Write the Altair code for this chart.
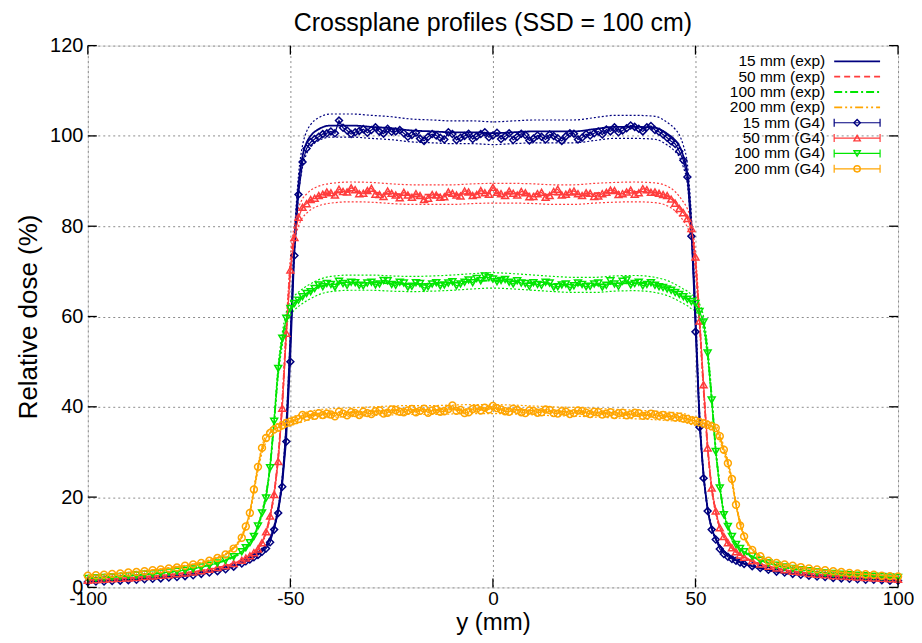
import altair as alt
import pandas as pd

TITLE = "Crossplane profiles (SSD = 100 cm)"
X_TITLE = "y (mm)"
Y_TITLE = "Relative dose (%)"
X_TICKS = [-100, -50, 0, 50, 100]
Y_TICKS = [0, 20, 40, 60, 80, 100, 120]

SERIES = ["15 mm", "50 mm", "100 mm", "200 mm"]
COLORS = ["#00007f", "#ff3c3c", "#00e600", "#ffa500"]
SHAPES = ["diamond", "triangle-up", "triangle-down", "circle"]
EXP_DASH = [[1, 0], [6, 4], [8, 3, 2, 3], [8, 3, 2, 3, 2, 3]]
UNC_PCT = 2.5  # relative uncertainty band drawn dotted around the measured profile

# ---- Geant4 (G4) simulated profiles ----
X_G4 = list(range(-100, -61, 2)) + list(range(-61, 62)) + list(range(62, 101, 2))

G4_15 = [1.2, 1.3, 1.3, 1.4, 1.5, 1.6, 1.7, 1.8, 1.9, 2.0, 2.2, 2.3, 2.5, 2.7, 3.0, 3.3, 3.6, 4.0, 4.6, 5.3,
         5.8, 6.2, 6.7, 7.2, 7.9, 8.6, 10.0, 12.8, 16.5, 22.3, 32.3, 50.0, 73.5, 87.0, 94.2, 97.2, 98.6, 99.3, 99.8, 100.4, 100.6,
         101.0, 100.6, 103.4, 101.8, 101.2, 100.4, 100.8, 101.1, 101.5, 100.7,
         101.3, 101.9, 100.9, 100.5, 101.6, 100.9, 101.0, 101.3, 100.6, 99.8,
         100.2, 100.7, 99.4, 98.9, 99.8, 100.4, 100.1, 99.6, 99.2, 100.8,
         100.4, 99.1, 99.6, 100.0, 100.5, 99.3, 99.9, 100.4, 100.8, 99.7,
         100.1, 100.7, 99.3, 99.9, 100.6, 99.1, 99.8, 100.5, 100.2, 99.0,
         99.4, 100.1, 99.8, 99.2, 100.3, 100.0, 99.5, 98.9, 99.9, 100.6,
         100.5, 99.2, 99.6, 100.4, 100.1, 100.6, 101.0, 100.3, 101.4, 101.0,
         101.9, 100.8, 101.2, 101.7, 102.3, 102.0, 101.6, 101.0, 101.9, 102.2,
         101.3,
         100.9, 100.3, 99.6, 98.8, 98.2, 96.6, 94.6, 90.9, 77.8, 56.6, 35.5, 24.2, 16.9, 12.8, 10.6, 8.5, 7.4, 6.8, 6.3, 5.9, 5.5,
         5.2, 4.7, 4.3, 3.9, 3.5, 3.3, 3.0, 2.8, 2.6, 2.4, 2.3, 2.1, 2.0, 1.9, 1.8, 1.7, 1.7, 1.6, 1.5, 1.5]
G4_50 = [1.6, 1.7, 1.8, 1.9, 2.0, 2.1, 2.2, 2.4, 2.5, 2.7, 2.8, 3.0, 3.2, 3.4, 3.7, 4.0, 4.4, 4.8, 5.3, 6.0,
         6.5, 7.0, 7.7, 8.5, 9.9, 12.3, 15.8, 20.6, 27.9, 39.7, 56.3, 70.3, 77.5, 82.0, 84.2, 85.0, 85.9, 86.2, 86.8, 87.1, 87.6,
         87.4, 86.9, 88.2, 87.7, 87.6, 88.5, 88.1, 87.2, 87.3, 87.9,
         88.4, 87.1, 87.0, 86.6, 87.8, 87.3, 86.9, 86.3, 87.5, 86.9,
         86.4, 87.2, 86.8, 85.9, 86.2, 87.0, 86.9, 86.4, 86.5, 87.6,
         87.3, 86.9, 86.7, 87.8, 87.6, 86.8, 87.0, 87.9, 87.4, 87.1,
         88.6, 87.5, 87.2, 86.8, 87.8, 87.3, 86.9, 87.7, 87.4, 86.5,
         86.6, 87.2, 87.5, 86.4, 86.8, 87.7, 88.2, 86.9, 87.1, 87.6,
         87.8, 87.2, 86.8, 87.4, 87.3, 86.6, 86.7, 87.2, 87.5, 88.0,
         87.9, 87.0, 87.2, 87.6, 88.0, 87.1, 87.4, 88.3, 88.1, 87.5,
         87.6,
         87.3, 87.0, 86.8, 86.0, 85.1, 83.9, 83.0, 81.7, 79.5, 73.2, 59.0, 44.9, 30.9, 22.0, 16.9, 13.2, 11.3, 9.9, 8.8, 7.9, 7.2,
         6.7, 5.9, 5.2, 4.7, 4.3, 3.9, 3.6, 3.4, 3.1, 2.9, 2.8, 2.6, 2.5, 2.4, 2.3, 2.2, 2.1, 2.0, 1.9, 1.8]
G4_100 = [2.0, 2.1, 2.2, 2.3, 2.4, 2.6, 2.7, 2.9, 3.0, 3.2, 3.4, 3.6, 3.8, 4.1, 4.5, 4.9, 5.4, 6.0, 6.8, 7.9,
          8.8, 9.9, 11.3, 13.6, 16.5, 19.8, 26.5, 36.8, 48.5, 55.2, 59.6, 61.8, 62.9, 63.6, 64.4, 65.1, 65.5, 66.2, 67.0, 66.6, 67.3,
          67.1, 66.5, 67.8, 67.3, 66.9, 67.6, 67.5, 66.9, 66.8, 67.4,
          67.6, 67.0, 67.2, 68.0, 67.9, 67.1, 66.9, 67.6, 67.4, 66.5,
          66.7, 67.5, 67.3, 66.3, 66.6, 67.2, 67.5, 66.8, 67.0, 67.4,
          67.7, 66.8, 67.2, 67.6, 68.1, 67.5, 68.4, 67.9, 69.0, 68.6,
          68.3, 67.7, 68.0, 68.2, 67.6, 67.2, 67.9, 67.4, 67.3, 66.7,
          67.5, 67.1, 66.9, 67.6, 67.4, 66.5, 66.6, 67.0, 67.2, 66.4,
          66.8, 67.4, 67.1, 66.6, 66.7, 67.2, 67.4, 66.5, 66.9, 67.9,
          67.2, 66.7, 67.8, 68.1, 67.0, 67.3, 67.6, 66.8, 67.1, 67.5,
          66.9,
          66.6, 66.4, 66.1, 65.8, 65.3, 64.9, 64.4, 63.8, 63.3, 62.9, 61.1, 58.8, 51.9, 41.5, 30.1, 22.0, 16.1, 13.5, 11.3, 9.5, 8.6,
          7.9, 6.9, 6.0, 5.4, 4.9, 4.5, 4.2, 3.9, 3.7, 3.4, 3.2, 3.1, 2.9, 2.8, 2.7, 2.6, 2.5, 2.4, 2.3, 2.2]
G4_200 = [2.6, 2.7, 2.8, 3.0, 3.1, 3.3, 3.4, 3.6, 3.8, 4.0, 4.2, 4.4, 4.8, 5.1, 5.4, 5.9, 6.5, 7.3, 8.6, 11.0,
          13.5, 16.5, 21.7, 26.7, 30.9, 33.1, 34.2, 35.0, 35.4, 35.9, 36.4, 36.7, 37.0, 37.3, 38.2, 37.8, 38.3, 38.0, 38.6, 38.2, 38.5,
          38.3, 37.9, 38.9, 38.5, 38.1, 38.8, 38.6, 38.2, 38.9, 38.6,
          38.4, 39.0, 39.2, 38.5, 38.7, 39.4, 39.3, 38.9, 38.8, 39.2,
          39.5, 38.8, 39.1, 39.6, 38.7, 39.2, 39.4, 38.9, 39.0, 39.5,
          40.3, 39.1, 39.3, 38.6, 38.8, 39.5, 39.6, 39.2, 39.8, 39.4,
          40.2, 39.7, 39.4, 39.0, 38.9, 39.6, 39.3, 38.8, 38.6, 39.2,
          39.1, 38.7, 38.8, 39.4, 39.3, 38.6, 38.5, 39.0, 38.9, 38.4,
          38.6, 39.2, 39.1, 38.7, 38.4, 38.9, 38.8, 38.3, 38.5, 38.8,
          38.2, 38.6, 38.7, 38.1, 38.3, 38.7, 38.6, 38.0, 38.1, 38.5,
          38.3,
          38.0, 38.2, 37.8, 38.0, 37.6, 37.8, 37.4, 37.3, 37.0, 36.9, 36.6, 36.3, 36.0, 35.7, 35.3, 33.5, 30.5, 27.5, 24.0, 18.3, 13.7,
          11.3, 8.3, 6.9, 5.9, 5.4, 5.1, 4.8, 4.5, 4.2, 4.0, 3.8, 3.6, 3.4, 3.2, 3.1, 2.9, 2.8, 2.6, 2.5, 2.4]

# ---- measured (exp) profiles ----
X_EXP = [-100, -90, -80, -70, -65, -62,
         -60, -59, -58, -57, -56, -55, -54, -53, -52, -51, -50, -49, -48, -47, -46, -45,
         -43, -40,
         -35, -30, -25, -20, -15, -10, -5, 0, 5, 10, 15, 20, 25, 30, 35,
         40, 43,
         45, 46, 47, 48, 49, 50, 51, 52, 53, 54, 55, 56, 57, 58, 59, 60,
         62, 65, 70, 80, 90, 100]
EXP_15 = [1.3, 1.7, 2.3, 3.5, 4.5, 5.4,
          6.3, 6.8, 7.4, 8.2, 9.3, 11.0, 13.5, 17.5, 24.0, 36.0, 55.0, 76.0, 89.0, 95.5, 98.5, 100.0,
          101.5, 102.3,
          102.3, 102.0, 101.7, 101.2, 101.0, 100.8, 100.8, 100.6, 100.8, 101.0, 101.0, 101.0, 101.5, 102.0, 102.0,
          101.8, 100.5,
          99.0, 97.8, 95.5, 91.5, 80.0, 60.0, 38.0, 25.0, 17.5, 13.2, 10.8, 9.2, 8.0, 7.2, 6.6, 6.1,
          5.3, 4.5, 3.5, 2.5, 1.9, 1.5]
EXP_50 = [1.6, 2.1, 2.8, 4.0, 5.0, 6.0,
          7.0, 7.6, 8.5, 9.9, 12.2, 15.8, 21.0, 29.0, 41.0, 57.0, 71.0, 78.5, 82.0, 84.0, 85.0, 85.8,
          86.7, 87.3,
          87.6, 87.5, 87.2, 87.0, 87.0, 87.0, 87.2, 87.3, 87.3, 87.2, 87.0, 87.0, 87.3, 87.5, 87.6,
          87.4, 86.7,
          85.5, 84.5, 83.3, 81.8, 79.0, 72.0, 59.0, 44.0, 31.0, 22.0, 16.8, 13.3, 11.3, 9.8, 8.7, 7.9,
          6.7, 5.4, 4.2, 2.9, 2.3, 1.8]
EXP_100 = [2.0, 2.6, 3.4, 5.0, 6.4, 7.9,
           9.9, 11.3, 13.6, 16.5, 20.5, 27.0, 37.0, 48.0, 55.0, 59.5, 61.8, 63.0, 63.8, 64.5, 65.1, 65.6,
           66.5, 67.2,
           67.5, 67.5, 67.3, 67.2, 67.3, 67.5, 67.8, 68.0, 67.8, 67.5, 67.2, 67.0, 67.0, 67.3, 67.4,
           67.0, 66.3,
           65.5, 65.0, 64.5, 64.0, 63.3, 62.8, 61.3, 58.5, 52.0, 42.0, 30.5, 22.5, 16.5, 13.5, 11.3, 9.6,
           7.9, 6.4, 4.9, 3.4, 2.7, 2.2]
EXP_200 = [2.6, 3.3, 4.3, 6.0, 8.0, 11.3,
           16.5, 21.5, 26.5, 30.5, 33.0, 34.3, 35.0, 35.5, 36.0, 36.4, 36.7, 37.0, 37.3, 37.6, 37.9, 38.1,
           38.4, 38.6,
           38.8, 39.0, 39.2, 39.3, 39.3, 39.4, 39.5, 39.5, 39.4, 39.2, 39.0, 38.9, 38.7, 38.5, 38.3,
           38.1, 37.9,
           37.8, 37.7, 37.6, 37.3, 37.0, 36.8, 36.6, 36.3, 36.0, 35.7, 35.1, 33.3, 30.5, 27.5, 23.5, 18.5,
           11.5, 7.6, 5.4, 4.0, 3.1, 2.4]

G4_ALL = [G4_15, G4_50, G4_100, G4_200]
EXP_ALL = [EXP_15, EXP_50, EXP_100, EXP_200]

W, H = 812, 543
FONT = "Liberation Sans"
GRID_COLOR = "#8c8c8c"
GRID_DASH = [2, 3]

xs = alt.Scale(domain=[X_TICKS[0], X_TICKS[-1]], nice=False, zero=False)
ys = alt.Scale(domain=[Y_TICKS[0], Y_TICKS[-1]], nice=False, zero=False)
X_AXIS = alt.Axis(values=X_TICKS, grid=True, gridDash=GRID_DASH, gridColor=GRID_COLOR, gridWidth=1,
                  ticks=False, domain=False, labelExpr="datum.value + ''",
                  labelFontSize=19, labelPadding=2, titleFontSize=24,
                  titlePadding=2, titleFontWeight="normal", labelFlush=False)
Y_AXIS = alt.Axis(values=Y_TICKS, grid=True, gridDash=GRID_DASH, gridColor=GRID_COLOR, gridWidth=1,
                  ticks=False, domain=False, labelExpr="datum.value + ''",
                  labelFontSize=20, labelPadding=5, titleFontSize=26,
                  titlePadding=8, titleFontWeight="normal", labelFlush=False)


def XE(field="x"):
    return alt.X(f"{field}:Q", scale=xs, title=X_TITLE, axis=X_AXIS)


def YE(field="v"):
    return alt.Y(f"{field}:Q", scale=ys, title=Y_TITLE, axis=Y_AXIS)


layers = []

for i, s in enumerate(SERIES):
    c = COLORS[i]
    dfe = pd.DataFrame({"x": X_EXP, "v": EXP_ALL[i]})
    base_e = alt.Chart(dfe).transform_calculate(
        hi=f"datum.v * (1 + {UNC_PCT} / 100)",
        lo=f"datum.v * (1 - {UNC_PCT} / 100)",
    )
    for fld in ["hi", "lo"]:
        layers.append(base_e.mark_line(color=c, strokeDash=[2, 2], strokeWidth=1.2,
                                       interpolate="monotone").encode(x=XE(), y=YE(fld)))
    layers.append(alt.Chart(dfe).mark_line(color=c, strokeDash=EXP_DASH[i], strokeWidth=1.8,
                                            interpolate="monotone").encode(x=XE(), y=YE()))

for i, s in enumerate(SERIES):
    c = COLORS[i]
    dfg = pd.DataFrame({"x": X_G4, "v": G4_ALL[i]})
    layers.append(alt.Chart(dfg).mark_line(color=c, strokeWidth=1.2).encode(x=XE(), y=YE()))
    layers.append(alt.Chart(dfg).mark_point(color=c, shape=SHAPES[i], filled=False,
                                             size=48, strokeWidth=1.5, opacity=1).encode(x=XE(), y=YE()))

# inward mirror ticks
df_xt = pd.DataFrame({"x": X_TICKS})
df_yt = pd.DataFrame({"v": Y_TICKS})
TK = 9
layers.append(alt.Chart(df_xt).mark_rule(color="black", strokeWidth=1.3).encode(
    x=XE(), y=alt.value(H), y2=alt.value(H - TK)))
layers.append(alt.Chart(df_xt).mark_rule(color="black", strokeWidth=1.3).encode(
    x=XE(), y=alt.value(0), y2=alt.value(TK)))
layers.append(alt.Chart(df_yt).mark_rule(color="black", strokeWidth=1.3).encode(
    y=YE(), x=alt.value(0), x2=alt.value(TK)))
layers.append(alt.Chart(df_yt).mark_rule(color="black", strokeWidth=1.3).encode(
    y=YE(), x=alt.value(W - TK), x2=alt.value(W)))

# legend (inside, top right)
one = pd.DataFrame({"a": [0]})
LX_TEXT, LX0, LX1 = 739, 748, 794
LY0, LDY = 15.7, 15.4
entries = [(f"{s} (exp)", i, "exp") for i, s in enumerate(SERIES)] + \
          [(f"{s} (G4)", i, "g4") for i, s in enumerate(SERIES)]
for k, (label, i, kind) in enumerate(entries):
    yy = LY0 + LDY * k
    c = COLORS[i]
    layers.append(alt.Chart(one).mark_text(text=label, align="right", baseline="middle",
                                            fontSize=15.5, font=FONT, color="black").encode(
        x=alt.value(LX_TEXT), y=alt.value(yy)))
    if kind == "exp":
        layers.append(alt.Chart(one).mark_rule(color=c, strokeDash=EXP_DASH[i], strokeWidth=1.8).encode(
            x=alt.value(LX0), x2=alt.value(LX1), y=alt.value(yy)))
    else:
        layers.append(alt.Chart(one).mark_rule(color=c, strokeWidth=1.2).encode(
            x=alt.value(LX0), x2=alt.value(LX1), y=alt.value(yy)))
        for ex in (LX0, LX1):
            layers.append(alt.Chart(one).mark_rule(color=c, strokeWidth=1.2).encode(
                x=alt.value(ex), y=alt.value(yy - 4), y2=alt.value(yy + 4)))
        layers.append(alt.Chart(one).mark_point(color=c, shape=SHAPES[i], filled=False,
                                                 size=40, strokeWidth=1.4, opacity=1).encode(
            x=alt.value((LX0 + LX1) / 2), y=alt.value(yy)))

chart = alt.layer(*layers).properties(
    width=W, height=H,
    title=alt.TitleParams(TITLE, fontSize=25, font=FONT, fontWeight="normal", offset=0,
                          anchor="middle", color="black"),
    padding={"left": 80, "top": 37, "right": 16, "bottom": 47},
    autosize=alt.AutoSizeParams(type="none"),
).configure_view(
    stroke="black", strokeWidth=1.5
).configure_axis(
    labelFont=FONT, titleFont=FONT, labelColor="black", titleColor="black"
).configure(background="white")

chart.save("out.html", embed_options={"renderer": "svg", "actions": False})
